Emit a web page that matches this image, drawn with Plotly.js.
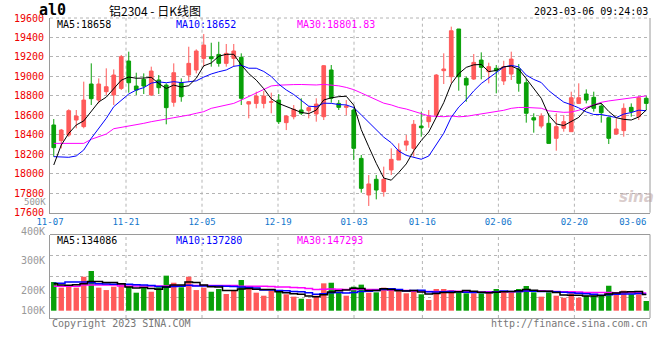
<!DOCTYPE html>
<html>
<head>
<meta charset="utf-8">
<script src="https://cdn.plot.ly/plotly-3.0.1.min.js"></script>
<style>html,body{margin:0;padding:0;background:#fff;}#chart{width:660px;height:360px;}</style>
</head>
<body>
<div id="chart"></div>
<script>
// ---- data ----
const dates = [
 '11-07','11-08','11-09','11-10','11-11','11-14','11-15','11-16','11-17','11-18',
 '11-21','11-22','11-23','11-24','11-25','11-28','11-29','11-30','12-01','12-02',
 '12-05','12-06','12-07','12-08','12-09','12-12','12-13','12-14','12-15','12-16',
 '12-19','12-20','12-21','12-22','12-23','12-26','12-27','12-28','12-29','12-30',
 '01-03','01-04','01-05','01-06','01-09','01-10','01-11','01-12','01-13','01-16',
 '01-17','01-18','01-19','01-20','01-30','01-31','02-01','02-02','02-03','02-06',
 '02-07','02-08','02-09','02-10','02-13','02-14','02-15','02-16','02-17','02-20',
 '02-21','02-22','02-23','02-24','02-27','02-28','03-01','03-02','03-03','03-06'];

const open = [
 18501,18340,18398,18552,18484,18922,18757,18843,18809,18877,
 19158,18901,18970,18809,18963,18911,18734,18935,19014,19066,
 19185,19202,19226,19134,19185,19196,18716,18723,18723,18734,
 18757,18525,18586,18655,18648,18614,18586,19066,18723,18682,
 18655,18158,17782,17943,17816,18039,18141,18295,18261,18490,
 18535,18603,19059,18997,19487,18980,18973,19168,19048,19083,
 18953,19024,19076,18935,18576,18490,18518,18364,18467,18432,
 18723,18819,18785,18696,18576,18408,18443,18682,18586,18775];
const high = [
 18562,18460,18662,18655,18946,19134,18980,19083,19072,19220,
 19254,19038,19031,19100,19014,18929,19134,18980,19305,19278,
 19435,19346,19356,19333,19333,19237,18747,18843,18850,18833,
 18819,18603,18706,18775,18696,18775,19117,19117,18757,18757,
 18672,18193,17987,17987,18073,18261,18313,18398,18552,18638,
 18655,19024,19237,19511,19487,18997,19230,19247,19141,19117,
 19161,19254,19127,18980,18621,18621,18621,18621,18603,18843,
 18929,18867,18843,18723,18586,18569,18723,18723,18798,18798];
const low = [
 18176,18261,18380,18467,18467,18706,18723,18809,18706,18860,
 18833,18809,18819,18799,18819,18508,18689,18740,18946,19031,
 19100,19100,19100,19100,19100,18706,18569,18672,18672,18621,
 18511,18449,18559,18603,18569,18535,18552,18730,18655,18603,
 18141,17806,17669,17737,17765,17987,18141,18234,18176,18381,
 18473,18579,18922,18929,18853,18740,18963,18970,18929,18826,
 18912,18963,18843,18525,18422,18467,18312,18237,18432,18432,
 18716,18723,18638,18525,18306,18398,18381,18586,18552,18655];
const close = [
 18268,18449,18648,18593,18757,18771,18922,18894,19014,19203,
 18935,18860,18901,19055,18884,18679,19038,18792,19134,19261,
 19322,19182,19134,19237,19261,18775,18740,18798,18798,18740,
 18535,18593,18662,18621,18679,18716,19110,18775,18682,18696,
 18261,17850,17895,17833,17943,18148,18244,18336,18508,18473,
 18586,19014,19076,19469,18997,18911,19144,19093,19100,19059,
 19100,19178,18929,18621,18552,18593,18312,18484,18535,18781,
 18781,18757,18672,18627,18364,18460,18672,18638,18781,18723];

const ma5 = [
 18090,18295,18415,18501,18543,18644,18738,18787,18872,18961,
 18994,18981,18983,18991,18927,18876,18911,18890,18905,18981,
 19109,19138,19207,19227,19227,19118,19029,18962,18874,18770,
 18722,18693,18666,18630,18618,18654,18758,18780,18792,18796,
 18705,18453,18277,18107,17956,17934,18013,18101,18236,18342,
 18429,18583,18731,18924,19028,19093,19119,19123,19049,19061,
 19099,19106,19073,18977,18876,18775,18601,18512,18495,18541,
 18579,18668,18705,18724,18640,18576,18559,18552,18583,18655];
const ma10 = [
 18176,18176,18169,18183,18244,18364,18467,18569,18689,18752,
 18819,18860,18885,18931,18944,18935,18946,18936,18948,18954,
 18993,19025,19048,19066,19104,19114,19084,19084,19051,18999,
 18920,18861,18814,18752,18694,18688,18725,18723,18711,18707,
 18680,18605,18529,18450,18376,18319,18233,18189,18171,18149,
 18182,18298,18416,18580,18685,18761,18851,18927,18986,19045,
 19096,19113,19098,19013,18969,18937,18854,18793,18736,18709,
 18677,18635,18609,18609,18591,18577,18613,18629,18653,18648];
const ma30 = [
 18312,18312,18312,18312,18312,18354,18381,18408,18463,18477,
 18484,18501,18518,18535,18552,18562,18576,18586,18603,18621,
 18638,18672,18689,18706,18723,18757,18792,18833,18860,18902,
 18910,18915,18916,18917,18914,18912,18918,18914,18903,18887,
 18864,18830,18797,18756,18725,18707,18681,18665,18645,18618,
 18594,18588,18586,18594,18585,18590,18603,18613,18623,18634,
 18652,18672,18681,18681,18677,18673,18646,18636,18631,18634,
 18652,18682,18708,18734,18748,18759,18773,18783,18792,18800];

const volume = [
 239000,192000,214000,192000,283000,331000,192000,172000,200000,225000,
 200000,150000,189000,158000,195000,292000,233000,195000,283000,172000,
 192000,158000,181000,139000,172000,256000,181000,150000,125000,167000,
 164000,137000,117000,100000, 97000,125000,228000,233000,153000,125000,
 200000,217000,150000,153000,192000,172000,162000,145000,167000,137000,
  89000,181000,181000,172000,164000,145000,145000,145000,153000,181000,
 164000,153000,181000,206000,153000,117000,153000,125000,108000,145000,
 108000,125000,125000,125000,208000,150000,167000,137000,137000, 81000];
const volMa5 = [
 225000,215000,213000,217000,224000,242400,242400,234000,235600,224000,
 197800,189400,192800,184400,178400,196800,213400,214600,239600,235000,
 215000,200000,197200,168400,168400,181200,185800,179600,176800,175800,
 157400,148600,142000,137000,123000,115200,133400,156600,167200,172800,
 187800,185600,169000,169000,182400,176800,165800,164800,167600,156600,
 140000,143800,151000,152000,157400,168600,161400,154200,150400,153800,
 157600,159200,166400,177000,171400,162000,162000,150800,131200,129600,
 127800,122200,122200,125600,138200,146600,155000,157400,159800,134086];
const volMa10 = [
 228000,228000,239000,239000,239000,232000,225000,222000,220000,224000,
 220100,215900,213400,210000,201200,197300,201400,203700,212000,206700,
 205900,206700,205900,204000,201700,198100,192900,188400,172600,172100,
 169300,167200,160800,156900,149400,136300,141000,149300,152100,147900,
 151500,159500,162800,168100,177600,182300,175700,166900,168300,169500,
 158400,154800,157900,159800,157000,154300,152600,152600,151200,155600,
 163100,160300,160300,163700,162600,159800,160600,158600,154100,150500,
 144900,142100,136500,128400,133900,137200,138600,139800,142700,137280];
const volMa30 = [
 203000,203000,203000,203000,215000,215000,215000,215000,215000,205000,
 205000,205000,205000,205000,205000,205000,205000,205000,210000,210000,
 210000,210000,210000,210000,210000,203000,203000,203000,203000,200900,
 198400,196600,193400,190300,184100,177200,178400,180500,178900,175600,
 175600,177800,176500,176300,176200,172200,169900,168200,164300,163200,
 159700,160500,160500,161600,161300,157600,156400,156300,157200,157700,
 157700,158200,160300,163900,165700,165500,163000,159400,157900,158500,
 155500,152400,151600,150600,151200,150400,150600,150300,149300,147293];

const tickLabels = ['11-07','11-21','12-05','12-19','01-03','01-16','02-06','02-20','03-06'];
const priceTicks = [17600,17800,18000,18200,18400,18600,18800,19000,19200,19400,19600];
const priceTickText = ['17600','17800','18000','18200','18400','18600','18800','19000','19200','19400','19600'];
const volTickLabels = ['500K','400K','300K','200K','100K'];
const priceHeader = ['MA5:18658','MA10:18652','MA30:18801.83'];
const volHeader = ['MA5:134086','MA10:137280','MA30:147293'];
const titleText = '铝2304 - 日K线图';
const symbolText = 'al0';
const stampText = '2023-03-06 09:24:03';

// ---- styling ----
const RED = '#ff5a5a', GREEN = '#08a008';
const MONO = 'DejaVu Sans Mono';
const idx = dates.map((d, i) => i);
const barColors = close.map((c, i) => (c > open[i] ? RED : GREEN));

// date gridlines are spaced slightly wider than the candles in the original
const gridPos = tickLabels.map(t => dates.indexOf(t) * 76 / 75 - 0.5);
const labelPos = gridPos.map(p => Math.min(p, 77.2));

const traces = [
 {type:'candlestick', x: idx, open: open, high: high, low: low, close: close,
  xaxis:'x', yaxis:'y', whiskerwidth: 0, hoverinfo:'skip',
  increasing:{line:{color:RED, width:1}, fillcolor:RED},
  decreasing:{line:{color:GREEN, width:1}, fillcolor:GREEN}},
 {type:'scatter', mode:'lines', x: idx, y: ma30, xaxis:'x', yaxis:'y', line:{color:'#ff00ff', width:1}},
 {type:'scatter', mode:'lines', x: idx, y: ma10, xaxis:'x', yaxis:'y', line:{color:'#0000ff', width:1}},
 {type:'scatter', mode:'lines', x: idx, y: ma5,  xaxis:'x', yaxis:'y', line:{color:'#000000', width:1}},
 {type:'bar', x: idx, y: volume, xaxis:'x2', yaxis:'y2', width: 0.72,
  marker:{color: barColors, line:{width:0}}},
 {type:'scatter', mode:'lines', x: idx, y: volMa30, xaxis:'x2', yaxis:'y2', line:{color:'#ff00ff', width:1.5, shape:'hvh'}},
 {type:'scatter', mode:'lines', x: idx, y: volMa10, xaxis:'x2', yaxis:'y2', line:{color:'#0000ff', width:1.5, shape:'hvh'}},
 {type:'scatter', mode:'lines', x: idx, y: volMa5,  xaxis:'x2', yaxis:'y2', line:{color:'#000000', width:1.5, shape:'hvh'}}
];

const GRID = '#b4b4b4', BORDER = '#9a9a9a';
const shapes = [];
gridPos.slice(1, gridPos.length - 1).forEach(p => {
  shapes.push({type:'line', xref:'x', yref:'y domain', x0:p, x1:p, y0:0, y1:1, line:{color:GRID, width:1, dash:'dot'}, layer:'below'});
  shapes.push({type:'line', xref:'x2', yref:'y2 domain', x0:p, x1:p, y0:0, y1:1, line:{color:GRID, width:1, dash:'dot'}, layer:'below'});
});
shapes.push({type:'line', xref:'paper', yref:'y domain', x0:1, x1:1, y0:0, y1:1, line:{color:BORDER, width:1}});
shapes.push({type:'line', xref:'paper', yref:'y domain', x0:0, x1:1, y0:1, y1:1, line:{color:GRID, width:1, dash:'dot'}});
shapes.push({type:'line', xref:'paper', yref:'y2 domain', x0:1, x1:1, y0:0, y1:1, line:{color:BORDER, width:1}});
shapes.push({type:'line', xref:'paper', yref:'y2 domain', x0:0, x1:1, y0:1, y1:1, line:{color:BORDER, width:1}});

// pixel helpers for text placement (plot area: x 50..650, y 18..318)
const px = v => (v - 50) / 600;
const py = v => (318 - v) / 300;
function txt(text, x, y, anchor, color, size, family, extra) {
  return Object.assign({text: text, xref:'paper', yref:'paper', x: px(x), y: py(y),
    xanchor: anchor, yanchor:'middle', showarrow:false,
    font:{family: family || MONO, size: size || 10, color: color || '#000'}}, extra || {});
}
const headerColors = ['#000000', '#0000ff', '#ff00ff'];
const headerX = [55, 174, 295];
const annotations = [
  txt('<b>' + symbolText + '</b>', 37, 10, 'left', '#000', 15),
  txt(titleText, 155, 10, 'center', '#000', 12, 'Noto Sans CJK SC'),
  txt(stampText, 650, 12, 'right', '#000', 10),
  txt('Copyright 2023 SINA.COM', 50, 323, 'left', '#777', 10),
  txt('http://finance.sina.com.cn', 650, 323, 'right', '#777', 10),
  txt('<b><i>sina</i></b>', 636, 197, 'center', 'rgba(185,160,160,0.55)', 15, 'DejaVu Sans')
];
priceHeader.forEach((t, i) => annotations.push(txt(t, headerX[i], 24, 'left', headerColors[i], 10)));
volHeader.forEach((t, i) => annotations.push(txt(t, headerX[i], 240, 'left', headerColors[i], 10)));
const volLabelY = [201.5, 231, 260.5, 290, 310];
volTickLabels.forEach((t, i) => annotations.push(
  txt(t, 46.5, volLabelY[i], 'right', '#999', i === 0 ? 9 : 10, MONO, i === 0 ? {borderpad:0} : {})));

const layout = {
  width: 660, height: 360,
  margin: {l:50, r:10, t:18, b:42, pad:0},
  paper_bgcolor:'#ffffff', plot_bgcolor:'#ffffff',
  showlegend:false, hovermode:false, dragmode:false,
  xaxis: {domain:[0,1], anchor:'y', range:[-0.5, 79.5], rangeslider:{visible:false},
    showgrid:false, zeroline:false, showline:true, linecolor:BORDER, linewidth:1,
    tickmode:'array', tickvals: labelPos, ticktext: tickLabels, ticks:'',
    tickfont:{family:MONO, size:9, color:'#1276cc'}, fixedrange:true},
  yaxis: {domain:[0.351, 1], anchor:'x', range:[17600, 19600],
    tickmode:'array', tickvals: priceTicks, ticktext: priceTickText, ticks:'',
    showgrid:true, gridcolor:GRID, gridwidth:1, griddash:'dot', zeroline:false,
    showline:true, linecolor:BORDER, linewidth:1, ticklabelstandoff:3,
    tickfont:{family:MONO, size:10, color:'#ee0000'}, fixedrange:true},
  xaxis2: {domain:[0,1], anchor:'y2', range:[-0.5, 79.5], showticklabels:false,
    showgrid:false, zeroline:false, showline:true, linecolor:BORDER, linewidth:1, ticks:'', fixedrange:true},
  yaxis2: {domain:[0, 0.2783], anchor:'x2', range:[-60800, 634700],
    tickmode:'array', tickvals:[112000, 285000, 457700], showticklabels:false, ticks:'',
    showgrid:true, gridcolor:GRID, gridwidth:1, griddash:'dot', zeroline:false,
    showline:true, linecolor:BORDER, linewidth:1, fixedrange:true},
  bargap: 0.28,
  shapes: shapes,
  annotations: annotations
};

Plotly.newPlot('chart', traces, layout, {staticPlot:true, displayModeBar:false});
</script>
</body>
</html>
